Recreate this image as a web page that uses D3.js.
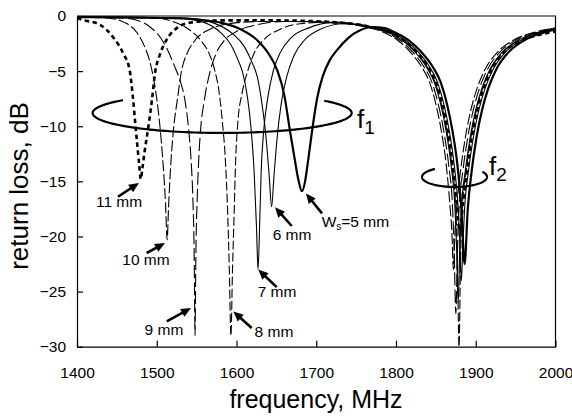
<!DOCTYPE html>
<html><head><meta charset="utf-8">
<script src="https://cdn.jsdelivr.net/npm/d3@7"></script>
<style>
body{margin:0;background:#fff}
svg{display:block}
text{font-family:"Liberation Sans",Arial,Helvetica,sans-serif;fill:#000}
</style>
</head><body><svg id="c" width="572" height="419"></svg>
<script>
// ---------- data ----------
const xTicks = [1400,1500,1600,1700,1800,1900,2000];
const yTicks = [0,-5,-10,-15,-20,-25,-30];

const freq5 = [1400,1480,1520,1560,1580,1605,1626,1640,1651,1660,1667,1673,1678,1682,1686,1690,1695,1701,1708,1717,1726,1740,1755,1770,1786,1796,1816,1831,1846,1856,1864,1871,1877,1882,1886,1890,1895,1901,1908,1916,1926,1941,1961,1986,2000];
const rl5   = [-0.1,-0.15,-0.2,-0.4,-0.6,-1.2,-2.2,-3.4,-4.9,-7.2,-10.4,-13.0,-15.0,-15.9,-15.0,-13.0,-10.3,-7.5,-5.5,-4.0,-3.1,-2.0,-1.3,-1.0,-1.1,-1.4,-2.2,-3.2,-4.6,-6.0,-8.0,-10.5,-13.5,-17.5,-22.5,-17.5,-14,-11,-8.5,-6.5,-4.8,-3.3,-2.2,-1.5,-1.2];

const freq6 = [1400,1500,1540,1570,1595,1610,1620,1626,1632,1637,1641,1644,1647,1651,1656,1663,1672,1685,1705,1735,1772,1792,1812,1827,1842,1852,1860,1867,1873,1878,1880,1882,1884,1886,1891,1897,1904,1912,1922,1937,1957,1982,2000];
const rl6   = [-0.1,-0.15,-0.2,-0.6,-1.6,-2.8,-4.3,-5.5,-8,-11,-14.5,-17.3,-14.5,-11,-8,-5.5,-3.6,-2.2,-1.2,-0.7,-1.0,-1.4,-2.2,-3.2,-4.6,-6.0,-8.0,-10.5,-13.5,-17.5,-20.5,-24,-20.5,-17.5,-14,-11,-8.5,-6.5,-4.8,-3.3,-2.2,-1.5,-1.2];

const freq7 = [1400,1500,1530,1560,1580,1593,1602,1608,1614,1618,1622,1625,1627,1629,1631,1634,1639,1646,1655,1668,1690,1720,1768,1788,1808,1823,1838,1848,1856,1863,1869,1874,1876,1878,1880,1882,1887,1893,1900,1908,1918,1933,1953,1978,2000];
const rl7   = [-0.1,-0.15,-0.2,-0.6,-1.5,-2.6,-4.0,-5.2,-7.5,-10,-14,-19,-23,-19,-14,-10.5,-7.5,-5.0,-3.3,-2.0,-1.1,-0.6,-1.0,-1.4,-2.2,-3.2,-4.6,-6.0,-8.0,-10.5,-13.5,-17.5,-21,-26,-21,-17.5,-14,-11,-8.5,-6.5,-4.8,-3.3,-2.2,-1.5,-1.1];

const freq8 = [1400,1500,1520,1540,1555,1565,1573,1578,1582,1586,1589,1591,1593,1595,1597,1599,1602,1607,1614,1622,1635,1655,1680,1720,1769,1789,1809,1824,1839,1849,1857,1864,1870,1875,1877,1879,1881,1883,1888,1894,1901,1909,1919,1934,1954,1979,2000];
const rl8   = [-0.1,-0.2,-0.5,-1.2,-2.2,-3.3,-5.0,-6.8,-9.4,-13,-18,-23,-29,-23,-18,-13,-9.4,-7,-5.0,-3.4,-2.1,-1.2,-0.7,-0.55,-1.0,-1.4,-2.2,-3.2,-4.6,-6.0,-8.0,-10.5,-13.5,-17.5,-22,-30,-22,-17.5,-14,-11,-8.5,-6.5,-4.8,-3.3,-2.2,-1.5,-1.1];

const freq9 = [1400,1460,1480,1495,1505,1513,1522,1529,1535,1540,1543,1545,1547,1548,1549,1551,1553,1555,1560,1567,1575,1585,1600,1625,1660,1725,1765,1785,1805,1820,1835,1845,1853,1860,1866,1871,1873,1875,1877,1879,1884,1890,1897,1905,1915,1930,1950,1975,2000];
const rl9   = [-0.1,-0.2,-0.5,-1.2,-2.0,-3.0,-4.5,-5.8,-7.5,-10.3,-13,-16,-22,-29,-22,-16,-12.5,-10.3,-7.5,-5.0,-3.3,-2.2,-1.4,-0.8,-0.5,-0.6,-1.0,-1.4,-2.2,-3.2,-4.6,-6.0,-8.0,-10.5,-13.5,-17.5,-21.5,-27,-21.5,-17.5,-14,-11,-8.5,-6.5,-4.8,-3.3,-2.2,-1.5,-1.1];

const freq10 = [1400,1440,1460,1475,1483,1490,1495,1500,1504,1508,1511,1513,1515,1518,1521,1526,1531,1538,1548,1567,1590,1630,1680,1722,1762,1782,1802,1817,1832,1842,1850,1857,1863,1868,1870,1872,1874,1876,1881,1887,1894,1902,1912,1927,1947,1972,2000];
const rl10   = [-0.1,-0.2,-0.6,-1.5,-2.5,-3.8,-5.3,-7.5,-10,-13.5,-17,-20.3,-17,-13,-10.3,-7.5,-5.0,-3.4,-2.2,-1.2,-0.7,-0.5,-0.5,-0.6,-1.0,-1.4,-2.2,-3.2,-4.6,-6.0,-8.0,-10.5,-13.5,-17.5,-19.5,-23,-19.5,-17.5,-14,-11,-8.5,-6.5,-4.8,-3.3,-2.2,-1.5,-1.1];

const freq11 = [1400,1410,1429,1445,1458,1466,1470,1473,1476,1478,1480,1482,1485,1490,1494,1498,1504,1512,1525,1542,1580,1650,1730,1770,1790,1810,1825,1840,1850,1858,1865,1871,1876,1880,1884,1889,1895,1902,1910,1920,1935,1955,1980,2000];
const rl11   = [-0.2,-0.4,-0.8,-1.9,-3.4,-4.9,-7.3,-9.7,-12,-13.5,-14.8,-13.8,-12.2,-9.8,-7.6,-5.1,-3.5,-2.2,-1.1,-0.6,-0.4,-0.4,-0.6,-1.0,-1.4,-2.2,-3.2,-4.6,-6.0,-8.0,-10.5,-13.5,-17,-19.5,-17,-14,-11,-8.5,-6.5,-4.8,-3.3,-2.3,-1.7,-1.4];

const seriesNames = ["5 mm","6 mm","7 mm","8 mm","9 mm","10 mm","11 mm"];

// ---------- layout / styles ----------
const styles = {
  "5 mm": {w:2.2, dash:null},
  "6 mm": {w:1.1, dash:null},
  "7 mm": {w:1.1, dash:null},
  "8 mm": {w:1.1, dash:"9,3"},
  "9 mm": {w:1.1, dash:"13,4"},
  "10 mm":{w:1.1, dash:"11,3"},
  "11 mm":{w:2.6, dash:"4.5,3.5"}
};
const series = [
  {name:"5 mm", f:freq5, v:rl5},
  {name:"6 mm", f:freq6, v:rl6},
  {name:"7 mm", f:freq7, v:rl7},
  {name:"8 mm", f:freq8, v:rl8},
  {name:"9 mm", f:freq9, v:rl9},
  {name:"10 mm", f:freq10, v:rl10},
  {name:"11 mm", f:freq11, v:rl11}
];

const svg = d3.select("#c");
const x = d3.scaleLinear().domain([1400,2000]).range([77,555.5]);
const y = d3.scaleLinear().domain([0,-30]).range([16,346.7]);

svg.append("defs").append("clipPath").attr("id","clip")
  .append("rect").attr("x",77).attr("y",14).attr("width",478.5).attr("height",333);

// curves
const line = d3.line().x(d=>x(d[0])).y(d=>y(d[1])).curve(d3.curveMonotoneX);
const gC = svg.append("g").attr("clip-path","url(#clip)");
series.forEach(s=>{
  const pts = s.f.map((f,i)=>[f,s.v[i]]);
  const st = styles[s.name];
  gC.append("path").attr("d",line(pts)).attr("fill","none")
    .attr("stroke","#000").attr("stroke-width",st.w)
    .attr("stroke-dasharray",st.dash).attr("stroke-linejoin","round");
});

// frame
svg.append("path").attr("d",`M${x(1400)},${y(0)}H${x(2000)}V${y(-30)}`)
  .attr("fill","none").attr("stroke","#000").attr("stroke-width",1.2);

// axes
const xMinor = d3.range(1400,2001,20);
const yMinor = d3.range(0,-30.01,-1);
const gx = svg.append("g").attr("transform",`translate(0,${y(-30)})`);
gx.call(d3.axisBottom(x).tickValues(xMinor).tickSize(-3).tickSizeOuter(0).tickFormat(""));
gx.call(d3.axisBottom(x).tickValues(xTicks).tickSize(-6).tickSizeOuter(0).tickPadding(20.5).tickFormat(d3.format("d")));
gx.selectAll("text").style("font-size","15.5px");
gx.selectAll("path,line").attr("stroke","#000").attr("stroke-width",1.2);

const gy = svg.append("g").attr("transform",`translate(${x(1400)},0)`);
gy.call(d3.axisLeft(y).tickValues(yMinor).tickSize(-3).tickSizeOuter(0).tickFormat(""));
gy.call(d3.axisLeft(y).tickValues(yTicks).tickSize(-6).tickSizeOuter(0).tickPadding(11).tickFormat(d=>d===0?"0":d3.format("d")(d)));
gy.selectAll("text").style("font-size","15.5px");
gy.selectAll("path,line").attr("stroke","#000").attr("stroke-width",1.2);
svg.selectAll(".domain").attr("stroke-width",1.2);

// axis titles
svg.append("text").attr("x",316).attr("y",408).attr("text-anchor","middle")
  .style("font-size","25px").text("frequency, MHz");
svg.append("text").attr("transform","translate(28,186) rotate(-90)").attr("text-anchor","middle")
  .style("font-size","26px").text("return loss, dB");

// ellipses (annotation rings) in data coords
const rings = [
  {cf:1582, cd:-8.8, rf:162.4, rd:1.81, a0:140, a1:398, lab:"1", lf:1751, ld:-10.16, ls:26},
  {cf:1873.4, cd:-14.6, rf:40.75, rd:0.91, a0:127, a1:392, lab:"2", lf:1916.6, ld:-14.4, ls:26}
];
const rl = d3.line();
rings.forEach(r=>{
  const cx=x(r.cf), cy=y(r.cd), rx=x(r.cf+r.rf)-cx, ry=y(r.cd-r.rd)-cy;
  const pts = d3.range(r.a0, r.a1+0.1, 2).map(a=>{
    const t=a*Math.PI/180; return [cx+rx*Math.cos(t), cy-ry*Math.sin(t)];
  });
  svg.append("path").attr("d",rl(pts)).attr("fill","none").attr("stroke","#000").attr("stroke-width",2.2);
  const t = svg.append("text").attr("x",x(r.lf)).attr("y",y(r.ld)).style("font-size",r.ls+"px");
  t.append("tspan").text("f");
  t.append("tspan").attr("dy",6).style("font-size","19px").text(r.lab);
});

// arrow labels
const labels = [
  {t:"11 mm", tf:1452.7, td:-17.3, anc:"middle", f0:1451.4, d0:-16.4, f1:1477.7, d1:-15.15},
  {t:"10 mm", tf:1486.5, td:-22.6, anc:"middle", f0:1487.4, d0:-21.5, f1:1510.3, d1:-20.6},
  {t:"9 mm",  tf:1509,   td:-28.9, anc:"middle", f0:1512.5, d0:-27.7, f1:1543,   d1:-26.5},
  {t:"8 mm",  tf:1647,   td:-29.1, anc:"middle", f0:1619,   d0:-28.3, f1:1596,   d1:-26.8},
  {t:"7 mm",  tf:1650.8, td:-25.5, anc:"middle", f0:1650.4, d0:-24.6, f1:1627.3, d1:-23.0},
  {t:"6 mm",  tf:1669.6, td:-20.3, anc:"middle", f0:1669.2, d0:-19.05,f1:1648.3, d1:-17.35},
  {t:"W",     tf:1706.8, td:-19.1, anc:"start",  f0:1707.2, d0:-17.9, f1:1687.1, d1:-16.1, sub:"s", rest:"=5 mm"}
];
labels.forEach(l=>{
  const x0=x(l.f0), y0=y(l.d0), x1=x(l.f1), y1=y(l.d1);
  const dx=x1-x0, dy=y1-y0, L=Math.hypot(dx,dy), ux=dx/L, uy=dy/L;
  const hl=10, hw=4.5;
  const bx=x1-ux*hl, by=y1-uy*hl;
  svg.append("line").attr("x1",x0).attr("y1",y0).attr("x2",bx+ux).attr("y2",by+uy)
    .attr("stroke","#000").attr("stroke-width",2.6);
  svg.append("path").attr("d",`M${x1},${y1}L${bx-uy*hw},${by+ux*hw}L${bx+uy*hw},${by-ux*hw}Z`).attr("fill","#000");
  const t = svg.append("text").attr("x",x(l.tf)).attr("y",y(l.td)).attr("text-anchor",l.anc).style("font-size","15.5px");
  t.append("tspan").text(l.t);
  if(l.sub){
    t.append("tspan").attr("dy",3).style("font-size","10px").text(l.sub);
    t.append("tspan").attr("dy",-3).text(l.rest);
  }
});
</script></body></html>
